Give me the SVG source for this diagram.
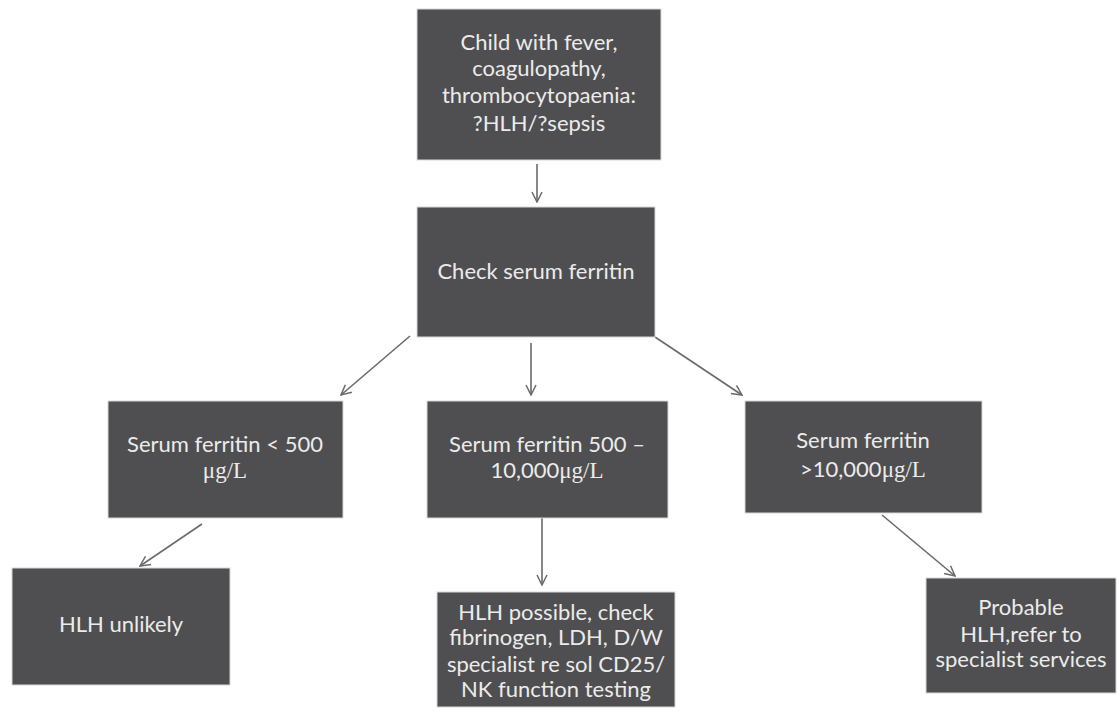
<svg xmlns="http://www.w3.org/2000/svg" width="1117" height="713" viewBox="0 0 1117 713">
<style>
.box{fill:#4f4f51;stroke:#d8d8d8;stroke-width:1}
.t{font-family:Lato,"Open Sans","Liberation Sans",sans-serif;font-size:22px;fill:#ebebeb;text-anchor:middle}
.s{font-family:"Liberation Serif",serif;font-size:23px}
.c{stroke:#6a6a6a;stroke-width:1.6;fill:none;marker-end:url(#ah)}
</style>
<defs>
<marker id="ah" viewBox="0 0 12 12" refX="11" refY="6" markerWidth="12" markerHeight="12" markerUnits="userSpaceOnUse" orient="auto">
<path d="M1,1 L11,6 L1,11" fill="none" stroke="#6a6a6a" stroke-width="1.5"/>
</marker>
</defs>
<rect width="1117" height="713" fill="#ffffff"/>
<g id="connectors">
<line class="c" x1="537" y1="164" x2="537" y2="202"/>
<line class="c" x1="410" y1="336" x2="341" y2="395"/>
<line class="c" x1="531" y1="343" x2="531" y2="395"/>
<line class="c" x1="655" y1="337" x2="742" y2="395"/>
<line class="c" x1="202" y1="524" x2="140" y2="566"/>
<line class="c" x1="542" y1="518" x2="542" y2="585"/>
<line class="c" x1="882" y1="515" x2="955" y2="576"/>
</g>
<g id="n1">
<rect class="box" x="417" y="9" width="244" height="151"/>
<text class="t" x="539" y="50">Child with fever,</text>
<text class="t" x="539" y="76">coagulopathy,</text>
<text class="t" x="539" y="103">thrombocytopaenia:</text>
<text class="t" x="539" y="131">?HLH/?sepsis</text>
</g>
<g id="n2">
<rect class="box" x="417" y="207" width="238" height="130"/>
<text class="t" x="536" y="279">Check serum ferritin</text>
</g>
<g id="n3">
<rect class="box" x="108" y="401" width="235" height="117"/>
<text class="t" x="225" y="452">Serum ferritin &lt; 500</text>
<text class="t s" x="225" y="478">μg/L</text>
</g>
<g id="n4">
<rect class="box" x="427" y="401" width="241" height="117"/>
<text class="t" x="547" y="452">Serum ferritin 500 –</text>
<text class="t" x="547" y="478">10,000<tspan class="s">μg/L</tspan></text>
</g>
<g id="n5">
<rect class="box" x="745" y="401" width="237" height="112"/>
<text class="t" x="863" y="448">Serum ferritin</text>
<text class="t" x="863" y="477">&gt;10,000<tspan class="s">μg/L</tspan></text>
</g>
<g id="n6">
<rect class="box" x="12" y="568" width="218" height="117"/>
<text class="t" x="121" y="632">HLH unlikely</text>
</g>
<g id="n7">
<rect class="box" x="437" y="592" width="238" height="115"/>
<text class="t" x="556" y="620">HLH possible, check</text>
<text class="t" x="556" y="645">fibrinogen, LDH, D/W</text>
<text class="t" x="556" y="672">specialist re sol CD25/</text>
<text class="t" x="556" y="697">NK function testing</text>
</g>
<g id="n8">
<rect class="box" x="926" y="578" width="190" height="115"/>
<text class="t" x="1021" y="615">Probable</text>
<text class="t" x="1021" y="642">HLH,refer to</text>
<text class="t" x="1021" y="667">specialist services</text>
</g>
</svg>
